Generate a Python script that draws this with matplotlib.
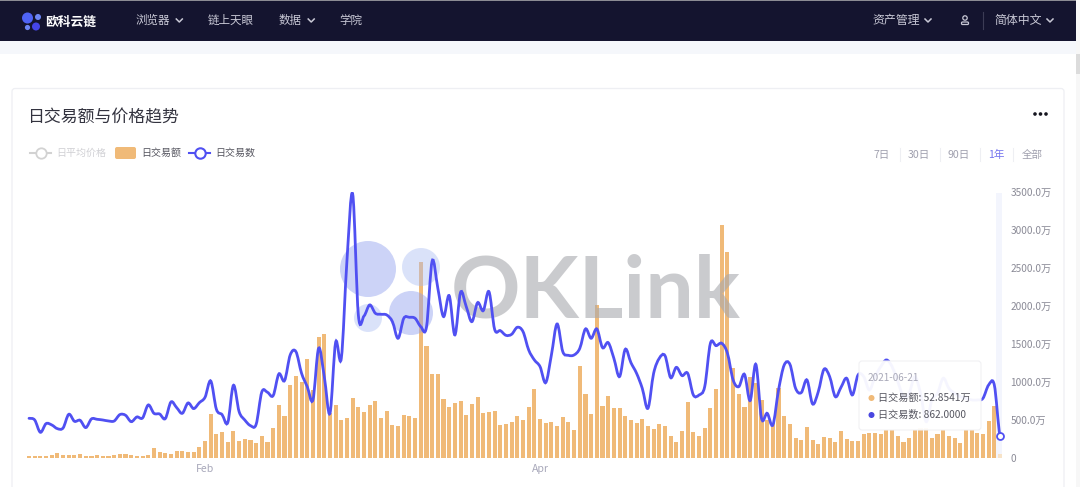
import matplotlib
matplotlib.use("Agg")
import matplotlib.pyplot as plt
import matplotlib.dates as mdates
import pandas as pd
from matplotlib.patches import Circle, FancyBboxPatch, PathPatch, Rectangle
from matplotlib.path import Path

plt.rcParams['font.family'] = ['Noto Sans CJK SC', 'DejaVu Sans']

# Data (unit: 万 on the right axis)
dates = pd.date_range("2021-01-01", "2021-06-21")

bar_values = [
    31, 26, 26, 35, 48, 70, 39, 39, 39, 57, 31, 31, 44, 35, 26, 44, 53, 57, 44, 31, 35, 48, 136, 88,
    66, 57, 96, 96, 79, 79, 154, 232, 588, 316, 346, 215, 360, 232, 250, 241, 197, 298, 215, 404,
    702, 561, 961,
    1088, 1009, 1311, 899, 1596, 1632, 592, 702, 500, 531, 789, 680, 614, 697, 750, 535, 623, 439,
    421, 566, 557, 535, 2579, 1478, 1114, 1114, 785, 675, 724, 750, 575, 715, 807, 601, 610, 627,
    434, 447, 478, 561, 509, 675, 908, 518, 461, 482,
    425, 539, 482, 373, 1211, 846, 583, 2013, 689, 820, 667, 667, 553, 504, 465, 522, 425, 386, 447,
    425, 298, 219, 360, 741, 351, 289, 395, 658, 908, 3070, 2719, 1184, 846, 680, 1066, 987, 768,
    504, 461, 921, 557, 447, 272, 241, 412,
    241, 189, 276, 272, 211, 360, 250, 228, 224, 320, 338, 338, 316, 373, 373, 294, 219, 272, 373,
    395, 395, 263, 320, 373, 294, 263, 197, 373, 373, 329, 325, 487, 684, 53,
]

line_values = [
    526, 504, 342, 456, 439, 390, 399, 579, 487, 500, 404, 518, 513, 504, 491, 491, 575, 566, 482,
    544, 531, 702, 592, 583, 522, 741, 667, 592, 728, 654, 732, 803, 1018, 645, 575, 469, 961, 614,
    504, 430, 447, 873, 868, 825, 1110, 1022, 1360,
    1404, 1118, 943, 768, 1447, 1075, 592, 1526, 1316, 2610, 3478, 1886, 1873, 2018, 1908, 1895,
    1886, 1798, 1579, 1842, 1855, 1842, 1732, 1728, 2597, 2237, 1864, 2140, 1623, 2184, 1996, 1798,
    2048, 1943, 2193, 1697, 1680, 1618, 1632, 1724, 1667, 1425, 1294, 1206, 996, 1360,
    1768, 1404, 1355, 1360, 1447, 1702, 1579, 1702, 1456, 1522, 1316, 1075, 1434, 1259, 1118, 921,
    658, 1118, 1316, 1351, 1061, 1197, 1088, 1118, 833, 833, 943, 1513, 1482, 1513, 1382, 1031, 943,
    1105, 759, 1237, 526, 592, 439, 899, 1228, 1237, 921, 864, 1031,
    715, 877, 1171, 1075, 811, 934, 1053, 833, 1097, 1075, 899, 1075, 1206, 1294, 1206, 1009, 811,
    855, 1075, 855, 482, 768, 855, 1053, 921, 855, 811, 789, 768, 768, 789, 965, 965, 298,
]

y_ticks = [0, 500, 1000, 1500, 2000, 2500, 3000, 3500]
y_labels = ["0", "500.0万", "1000.0万", "1500.0万", "2000.0万", "2500.0万", "3000.0万", "3500.0万"]
x_tick_dates = ["2021-02-01", "2021-04-01"]
x_labels = ["Feb", "Apr"]
nav_items = [("浏览器", 135.5, True), ("链上天眼", 208, False), ("数据", 279, True), ("学院", 339, False)]
range_items = [("7日", 882), ("30日", 919), ("90日", 959), ("1年", 996), ("全部", 1032)]

ORANGE = "#f0ba78"
BLUE = "#5050f2"
NAVY = "#14142f"

fig = plt.figure(figsize=(10.8, 4.87), dpi=100, facecolor="white")

# page furniture lives in an axes measured in pixels
bg = fig.add_axes([0, 0, 1, 1], zorder=0)
bg.set_xlim(0, 1080)
bg.set_ylim(487, 0)
bg.axis("off")


def chevron(a, x, y, color="#c9c9d6"):
    a.plot([x - 3, x, x + 3], [y - 1.5, y + 1.5, y - 1.5], color=color, lw=1.1)


bg.add_patch(Rectangle((0, 41), 1076, 13, color="#f5f7fb", lw=0))
bg.add_patch(Rectangle((1076, 0), 4, 487, color="#f7f7f7", lw=0))
bg.add_patch(Rectangle((1076, 54), 4, 20, color="#dcdcdc", lw=0))
bg.add_patch(Rectangle((0, 0), 1076, 41, color=NAVY, lw=0))
bg.add_patch(Rectangle((0, 0), 1076, 1, color="#8c8c94", lw=0))
bg.add_patch(FancyBboxPatch((12, 88.5), 1052, 430, boxstyle="round,pad=0,rounding_size=3",
                            fc="white", ec="#eeeff3", lw=0.9))

# logo
for cx, cy, r, c in [(27.5, 18, 5.5, "#4f63f5"), (38, 17, 3, "#6d86f5"), (27.5, 27.5, 2.6, "#6d86f5"), (36, 26.5, 4, "#4545e8")]:
    bg.add_patch(Circle((cx, cy), r, color=c, lw=0))
bg.text(45, 22, "欧科云链", color="white", fontsize=9.2, fontweight="bold", va="center")

for label, x, has_menu in nav_items:
    bg.text(x, 20.5, label, color="#c9c9d6", fontsize=8.3, va="center")
    if has_menu:
        chevron(bg, x + len(label) * 11.6 + 9, 20.5)

bg.text(872, 20.5, "资产管理", color="#c9c9d6", fontsize=8.6, va="center")
chevron(bg, 928, 20.5)
bg.add_patch(Circle((965, 18), 2.2, fc="none", ec="#c9c9d6", lw=0.9))
bg.add_patch(FancyBboxPatch((961.5, 22), 7, 2.5, boxstyle="round,pad=0,rounding_size=1", fc="none", ec="#c9c9d6", lw=0.9))
bg.plot([982.5, 982.5], [12, 29], color="#3c3c55", lw=0.8)
bg.text(994, 20.5, "简体中文", color="#c9c9d6", fontsize=8.6, va="center")
chevron(bg, 1050, 20.5)

bg.text(27, 117, "日交易额与价格趋势", color="#33333f", fontsize=12.2, va="center")
for x in (1035, 1040.5, 1046):
    bg.add_patch(Circle((x, 114), 1.8, color="#15151f", lw=0))

# legend
bg.plot([30, 51], [152.5, 152.5], color="#d2d2d2", lw=1.5)
bg.plot([41], [152.5], "o", ms=7.5, mfc="white", mec="#d2d2d2", mew=1.3)
bg.text(56, 152.5, "日平均价格", color="#d0d0d4", fontsize=7.2, va="center")
bg.add_patch(FancyBboxPatch((115, 147), 21, 12, boxstyle="round,pad=0,rounding_size=2", fc=ORANGE, ec="none"))
bg.text(141, 152.5, "日交易额", color="#55555f", fontsize=7.2, va="center")
bg.plot([189, 210], [152.5, 152.5], color=BLUE, lw=1.5)
bg.plot([200], [152.5], "o", ms=7.5, mfc="white", mec=BLUE, mew=1.5)
bg.text(215, 152.5, "日交易数", color="#55555f", fontsize=7.2, va="center")

# range buttons
for label, x in range_items:
    c = "#7474ee" if label == "1年" else "#a0a0ae"
    bg.text(x, 155, label, color=c, fontsize=7.6, ha="center", va="center")
for x in (899.5, 939.5, 979.5, 1013):
    bg.plot([x, x], [148, 161], color="#eeeff3", lw=0.8)

# slider strip behind the bars
bg.add_patch(Rectangle((996, 193), 6, 265, color="#f3f5fd", lw=0))

# chart
ax = fig.add_axes([26 / 1080, (487 - 458.3) / 487, 977 / 1080, 266 / 487], zorder=1)
ax.patch.set_alpha(0)
x = mdates.date2num(dates)
ax.bar(x[:-1], bar_values[:-1], width=0.72, color=ORANGE, zorder=2)
ax.bar(x[-1], bar_values[-1], width=0.72, color="#f7e3c8", zorder=2)


def smooth_path(xs, ys):
    # Bezier through the daily values, the curve the chart library draws
    verts = [(xs[0], ys[0])]
    codes = [Path.MOVETO]
    n = len(xs)
    for i in range(n - 1):
        y0 = ys[max(i - 1, 0)]
        y3 = ys[min(i + 2, n - 1)]
        verts.append((xs[i] + (xs[i + 1] - xs[i]) / 3, ys[i] + (ys[i + 1] - y0) / 6))
        verts.append((xs[i + 1] - (xs[i + 1] - xs[i]) / 3, ys[i + 1] - (y3 - ys[i]) / 6))
        verts.append((xs[i + 1], ys[i + 1]))
        codes += [Path.CURVE4, Path.CURVE4, Path.CURVE4]
    return Path(verts, codes)


ax.add_patch(PathPatch(smooth_path(x, line_values), fc="none", ec=BLUE, lw=2.0, zorder=4, capstyle="round"))
ax.plot(x[-1], line_values[-1], "o", ms=5, mfc="white", mec=BLUE, mew=1.3, zorder=5, clip_on=False)

ax.set_xlim(x[0] - 0.53, x[-1] + 0.53)
ax.set_ylim(0, 3500)
ax.yaxis.tick_right()
ax.set_yticks(y_ticks)
ax.set_yticklabels(y_labels)
ax.set_xticks(mdates.date2num(pd.to_datetime(x_tick_dates)))
ax.set_xticklabels(x_labels)
ax.tick_params(axis="y", length=0, pad=5.5, labelsize=7.3, labelcolor="#8a8a96")
ax.tick_params(axis="x", length=0, pad=4, labelsize=7.6, labelcolor="#a8a8ba")
for s in ax.spines.values():
    s.set_visible(False)

# watermark sits over the bars and under the line, the bars show through it
for cx, cy, r, c, al in [(368, 269, 28, "#8f9fee", 0.45), (421, 267, 19, "#a9bcf3", 0.42),
                         (411, 313, 22, "#8f9fee", 0.45), (368, 318, 14, "#a9bcf3", 0.42)]:
    ax.add_patch(Circle((cx, cy), r, fc=c, ec="none", alpha=al, transform=bg.transData, zorder=3, clip_on=False))
ax.text(451, 318, "OKLink", transform=bg.transData, family="Lato", fontweight="bold", fontsize=62,
        color="#a8a9ae", alpha=0.6, zorder=3, va="baseline", clip_on=False)

# tooltip
top = fig.add_axes([0, 0, 1, 1], zorder=2)
top.set_xlim(0, 1080)
top.set_ylim(487, 0)
top.axis("off")
top.add_patch(FancyBboxPatch((859, 361), 122, 69, boxstyle="round,pad=0,rounding_size=3", fc="white", ec="#f0f0f3", lw=0.8, alpha=0.95))
top.text(868, 378, "2021-06-21", color="#a8a8b8", fontsize=7.2, va="center")
top.add_patch(Circle((871.5, 398), 3, color=ORANGE, lw=0))
top.text(878, 398, "日交易额: 52.8541万", color="#55555f", fontsize=7.3, va="center")
top.add_patch(Circle((871.5, 415), 3, color="#4a47e0", lw=0))
top.text(878, 415, "日交易数: 862.0000", color="#55555f", fontsize=7.3, va="center")

fig.savefig("out.png", dpi=100)
